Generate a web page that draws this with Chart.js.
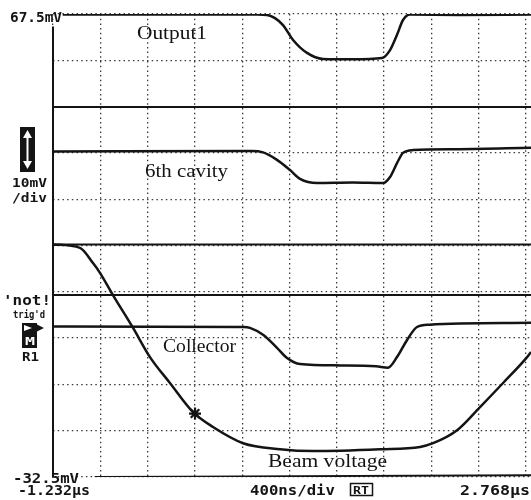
<!DOCTYPE html>
<html>
<head>
<meta charset="utf-8">
<script src="https://cdn.jsdelivr.net/npm/chart.js@4.4.0/dist/chart.umd.min.js"></script>
<style>
  html, body { margin: 0; padding: 0; background: #fff; overflow: hidden; }
  canvas { display: block; }
</style>
</head>
<body>
<canvas id="scope" width="531" height="500"></canvas>
<script>
// screen settings (time in µs, level in mV)
const timeStart = -1.232;
const timeShown = 2.81;      // trace runs a little past the last division (2.768)
const timePerDiv = 0.4;
const mvBottom = -32.5;
const mvTop = 67.5;
const mvPerDiv = 10;

// Output1
const output1Time = [-1.15, 0.50, 0.578, 0.645, 0.713, 0.798, 0.916, 1.051, 1.30, 1.550, 1.618, 1.677, 1.728, 1.787, 2.2, 2.81];
const output1Mv   = [67.4, 67.4, 67.3, 66.6, 65.1, 61.9, 59.1, 57.8, 57.7, 58.0, 59.7, 63.0, 66.2, 67.4, 67.3, 67.4];

// 6th cavity
const cavityTime = [-1.232, 0.45, 0.544, 0.662, 0.772, 0.857, 1.001, 1.30, 1.559, 1.618, 1.677, 1.728, 1.813, 2.2, 2.81];
const cavityMv   = [37.8, 37.9, 37.6, 36.0, 33.8, 31.9, 31.0, 31.1, 31.0, 32.3, 35.3, 37.5, 38.1, 38.3, 38.6];

// Collector
const collectorTime = [-1.232, 0.38, 0.434, 0.544, 0.662, 0.747, 0.857, 1.20, 1.50, 1.60, 1.677, 1.762, 1.846, 1.95, 2.81];
const collectorMv   = [0.0, -0.1, -0.3, -1.8, -4.6, -6.8, -8.1, -8.4, -8.6, -8.9, -6.6, -2.9, -0.1, 0.4, 0.8];

// Beam voltage
const beamTime = [-1.232, -1.004, -0.894, -0.835, -0.725, -0.555, -0.412, -0.243, -0.048, 0.121, 0.375, 0.688, 0.967, 1.533, 1.872, 1.982, 2.185, 2.379, 2.574, 2.777, 2.81];
const beamMv   = [17.7, 17.0, 13.7, 11.6, 6.8, -0.3, -6.6, -12.2, -18.5, -21.7, -25.2, -26.5, -26.9, -26.5, -26.0, -25.2, -22.4, -17.4, -12.2, -6.6, -5.5];

// trigger marker on the beam voltage trace
const triggerTime = -0.031;
const triggerMv = -18.8;

// flat reference traces across the screen
const refLevels = [47.4, 17.7, 6.8];
const baseTime = [-0.88, 2.81];
const baseMv = [-32.5, -32.1];

const xTicks = Array.from({ length: 11 }, (_, k) => timeStart + k * timePerDiv);
const yTicks = Array.from({ length: 11 }, (_, k) => mvBottom + k * mvPerDiv);

const ink = '#141414';
const pts = (ts, vs) => ts.map((t, i) => ({ x: t, y: vs[i] }));

const trace = (data, width) => ({
    data: data,
    borderColor: ink,
    borderWidth: width,
    pointRadius: 0,
    cubicInterpolationMode: 'monotone',
    fill: false
});

const datasets = [
    trace(pts(output1Time, output1Mv), 2.5),
    trace(pts(cavityTime, cavityMv), 2.5),
    trace(pts(collectorTime, collectorMv), 2.5),
    trace(pts(beamTime, beamMv), 2.5),
    trace(pts(baseTime, baseMv), 2)
];
refLevels.forEach(v => datasets.push(trace(pts([timeStart, timeShown], [v, v]), 2)));
datasets.push({
    data: [{ x: triggerTime, y: triggerMv }],
    pointStyle: 'star',
    pointRadius: 6,
    pointBorderWidth: 2.2,
    pointBorderColor: ink,
    showLine: false
});

// draws text squeezed/stretched to a given width
function fitText(ctx, str, x, y, width, font) {
    ctx.save();
    ctx.font = font;
    const w = ctx.measureText(str).width;
    ctx.translate(x, y);
    ctx.scale(width / w, 1);
    ctx.fillText(str, 0, 0);
    ctx.restore();
}

const scopeChrome = {
    id: 'scopeChrome',
    afterDraw(chart) {
        const ctx = chart.ctx;
        const xs = chart.scales.x, ys = chart.scales.y;
        ctx.save();

        // left axis
        const ax = xs.getPixelForValue(timeStart);
        ctx.strokeStyle = ink;
        ctx.lineWidth = 2;
        ctx.beginPath();
        ctx.moveTo(ax, ys.getPixelForValue(64.8));
        ctx.lineTo(ax, ys.getPixelForValue(mvBottom));
        ctx.stroke();

        ctx.fillStyle = ink;
        ctx.textBaseline = 'alphabetic';

        // trace names
        const serif = '19px "Liberation Serif", serif';
        fitText(ctx, 'Output1', 137, 39, 70, serif);
        fitText(ctx, '6th cavity', 145, 177, 83, serif);
        fitText(ctx, 'Collector', 163, 352, 73, serif);
        fitText(ctx, 'Beam voltage', 268, 467, 119, serif);

        // scope readouts
        const mono = 'bold 14px "DejaVu Sans Mono", monospace';
        const monoSmall = 'bold 12px "DejaVu Sans Mono", monospace';
        fitText(ctx, '67.5mV', 10, 22, 52, mono);
        fitText(ctx, '10mV', 12, 187, 35, monoSmall);
        fitText(ctx, '/div', 12, 202, 35, monoSmall);
        fitText(ctx, "'not!", 3, 305, 48, mono);
        fitText(ctx, "trig'd", 13, 318, 32, 'bold 11px "DejaVu Sans Mono", monospace');
        fitText(ctx, 'R1', 22, 361, 17, monoSmall);
        fitText(ctx, '-32.5mV', 13, 483, 66, mono);
        fitText(ctx, '-1.232µs', 18, 495, 72, mono);
        fitText(ctx, '400ns/div', 250, 495, 85, mono);
        fitText(ctx, '2.768µs', 460, 495, 70, mono);

        // RT box
        ctx.strokeStyle = ink;
        ctx.lineWidth = 1.5;
        ctx.strokeRect(350.5, 483.5, 22, 12);
        fitText(ctx, 'RT', 353, 494, 16, 'bold 11px "DejaVu Sans Mono", monospace');

        // volts/div arrow icon
        ctx.fillRect(20, 127, 15, 45);
        ctx.strokeStyle = '#fff';
        ctx.fillStyle = '#fff';
        ctx.lineWidth = 2;
        ctx.beginPath();
        ctx.moveTo(27.5, 134);
        ctx.lineTo(27.5, 165);
        ctx.stroke();
        ctx.beginPath();
        ctx.moveTo(27.5, 130); ctx.lineTo(23, 138); ctx.lineTo(32, 138); ctx.closePath();
        ctx.moveTo(27.5, 169); ctx.lineTo(23, 161); ctx.lineTo(32, 161); ctx.closePath();
        ctx.fill();

        // R1 ground marker
        ctx.fillStyle = ink;
        ctx.fillRect(22, 323, 15, 25);
        ctx.beginPath();
        ctx.moveTo(36, 324); ctx.lineTo(44, 328); ctx.lineTo(36, 332); ctx.closePath();
        ctx.fill();
        ctx.fillStyle = '#fff';
        ctx.beginPath();
        ctx.moveTo(24, 325); ctx.lineTo(32, 328); ctx.lineTo(24, 331); ctx.closePath();
        ctx.fill();
        fitText(ctx, 'M', 25, 345, 10, 'bold 10px "DejaVu Sans Mono", monospace');

        ctx.restore();
    }
};

new Chart(document.getElementById('scope'), {
    type: 'line',
    data: { datasets: datasets },
    options: {
        responsive: false,
        animation: false,
        events: [],
        layout: { autoPadding: false, padding: { top: 14, left: 53, right: 0, bottom: 23 } },
        plugins: { legend: { display: false }, tooltip: { enabled: false } },
        scales: {
            x: {
                type: 'linear',
                min: timeStart,
                max: timeShown,
                afterBuildTicks: axis => { axis.ticks = xTicks.map(v => ({ value: v })); },
                ticks: { display: false },
                grid: { color: '#3a3a3a', lineWidth: 1.3, drawTicks: false },
                border: { display: false, dash: [1.5, 3.2] }
            },
            y: {
                type: 'linear',
                min: mvBottom,
                max: mvTop,
                afterBuildTicks: axis => { axis.ticks = yTicks.map(v => ({ value: v })); },
                ticks: { display: false },
                grid: { color: '#3a3a3a', lineWidth: 1.3, drawTicks: false },
                border: { display: false, dash: [1.5, 3.2] }
            }
        }
    },
    plugins: [scopeChrome]
});
</script>
</body>
</html>
